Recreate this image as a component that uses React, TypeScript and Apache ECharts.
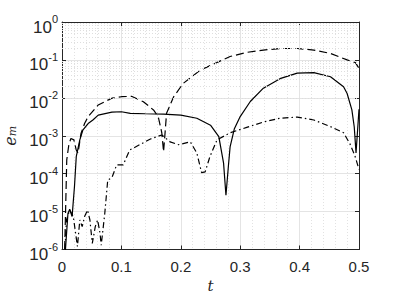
import React, { useEffect, useRef } from "react";
import * as echarts from "echarts";

const xTicks = [0, 0.1, 0.2, 0.3, 0.4, 0.5];
const yDecades = [1e-6, 1e-5, 1e-4, 1e-3, 1e-2, 1e-1, 1];

const tSolid = [0.0045, 0.010, 0.013, 0.017, 0.021, 0.024, 0.030, 0.035, 0.044, 0.052, 0.061, 0.084, 0.100, 0.115, 0.140, 0.171, 0.200, 0.227, 0.250, 0.264, 0.272, 0.276, 0.280, 0.283, 0.290, 0.300, 0.317, 0.339, 0.367, 0.396, 0.424, 0.452, 0.474, 0.480, 0.488, 0.492, 0.495, 0.498, 0.500];
const eSolid = [5e-7, 8.9e-6, 1.15e-5, 7.4e-6, 4.6e-5, 2.8e-4, 7.8e-4, 1.4e-3, 2.1e-3, 2.6e-3, 3.5e-3, 4.2e-3, 4.3e-3, 3.9e-3, 3.8e-3, 3.7e-3, 3.5e-3, 2.9e-3, 1.9e-3, 9.5e-4, 1.9e-4, 2.7e-5, 1.5e-4, 5.1e-4, 1.5e-3, 3.2e-3, 8e-3, 1.8e-2, 3.2e-2, 4.5e-2, 4.6e-2, 3.6e-2, 1.95e-2, 1.3e-2, 4.8e-3, 1.7e-3, 3.5e-4, 1.7e-3, 5e-3];

const tDashed = [0.004, 0.006, 0.008, 0.0115, 0.015, 0.020, 0.024, 0.027, 0.032, 0.038, 0.044, 0.061, 0.084, 0.100, 0.117, 0.137, 0.154, 0.162, 0.168, 0.171, 0.174, 0.176, 0.188, 0.204, 0.233, 0.283, 0.311, 0.339, 0.367, 0.396, 0.424, 0.452, 0.480, 0.494, 0.500];
const eDashed = [5e-7, 1e-5, 2.3e-4, 5.8e-4, 8.5e-4, 7.8e-4, 4.2e-4, 3.5e-4, 1.15e-3, 2.1e-3, 3.2e-3, 6.5e-3, 9.8e-3, 1.07e-2, 1.1e-2, 7.9e-3, 4.8e-3, 3.2e-3, 1.2e-3, 3.8e-4, 1.5e-3, 3.9e-3, 1.07e-2, 2.4e-2, 5.4e-2, 0.123, 0.158, 0.182, 0.2, 0.2, 0.182, 0.148, 0.1, 0.085, 0.06];

const tDashDot = [0.005, 0.0075, 0.013, 0.019, 0.026, 0.030, 0.034, 0.038, 0.043, 0.047, 0.051, 0.056, 0.060, 0.064, 0.066, 0.072, 0.077, 0.084, 0.092, 0.103, 0.114, 0.148, 0.168, 0.182, 0.196, 0.216, 0.227, 0.235, 0.241, 0.249, 0.261, 0.283, 0.311, 0.339, 0.367, 0.396, 0.424, 0.452, 0.474, 0.485, 0.493, 0.500];
const eDashDot = [1e-6, 6e-6, 1.1e-5, 7.4e-6, 1.2e-6, 6e-6, 4e-6, 7.4e-6, 1.1e-5, 6e-6, 1.45e-6, 4e-6, 6e-6, 2.7e-6, 1.3e-6, 8.9e-6, 6.8e-5, 7.8e-5, 1.7e-4, 1.7e-4, 4.2e-4, 8.1e-4, 1.05e-3, 6.9e-4, 5.8e-4, 6.9e-4, 3.5e-4, 1.07e-4, 1.12e-4, 2.8e-4, 7.8e-4, 1.2e-3, 1.66e-3, 2.3e-3, 2.9e-3, 3.1e-3, 2.6e-3, 1.74e-3, 1.2e-3, 6e-4, 3e-4, 1.3e-4];

const minorMultipliers = [2, 3, 4, 5, 6, 7, 8, 9];

const FONT = "Liberation Sans";
const AX = "#262626";

export default function App() {
  const ref = useRef<HTMLDivElement>(null);
  useEffect(() => {
    const chart = echarts.init(ref.current!, null, { renderer: "svg" });
    const minorVals: number[] = [];
    yDecades.slice(0, -1).forEach((d) => minorMultipliers.forEach((m) => minorVals.push(m * d)));
    const pairs = (t: number[], e: number[]) => t.map((x, i) => [x, e[i]]);
    const lineBase = { type: "line", showSymbol: false, symbol: "none", clip: true, xAxisIndex: 0, yAxisIndex: 0 };
    chart.setOption({
      animation: false,
      grid: { left: 62, top: 22, right: 37, bottom: 50.5, containLabel: false, outerBoundsMode: "none" },
      xAxis: [
        {
          type: "value", min: 0, max: 0.5, interval: 0.1,
          axisLine: { show: true, onZero: false, lineStyle: { color: AX, width: 1 } },
          axisTick: { show: true, inside: true, length: 4, lineStyle: { color: AX } },
          minorTick: { show: false, splitNumber: 5 },
          splitLine: { show: true, lineStyle: { color: "#e4e4e4", width: 1 } },
          minorSplitLine: { show: true, lineStyle: { color: "#e2e2e2", type: [1, 2], width: 1 } },
          axisLabel: { fontFamily: FONT, fontSize: 15, color: AX, margin: 9, formatter: (v: number) => (xTicks.includes(Math.round(v * 10) / 10) ? String(Math.round(v * 10) / 10) : "") },
          name: "t", nameLocation: "middle", nameGap: 29,
          nameTextStyle: { fontFamily: "DejaVu Serif", fontStyle: "italic", fontSize: 15, color: AX },
        },
        {
          type: "value", min: 0, max: 0.5, interval: 0.1, position: "top",
          axisLine: { show: true, onZero: false, lineStyle: { color: AX, width: 1 } },
          axisTick: { show: true, inside: true, length: 4, lineStyle: { color: AX } },
          axisLabel: { show: false }, splitLine: { show: false },
        },
      ],
      yAxis: [
        {
          type: "log", logBase: 10, min: 1e-6, max: 1,
          axisLine: { show: true, onZero: false, lineStyle: { color: AX, width: 1 } },
          axisTick: { show: true, inside: true, length: 4, lineStyle: { color: AX } },
          splitLine: { show: true, lineStyle: { color: "#e4e4e4", width: 1 } },
          axisLabel: {
            fontFamily: FONT, color: AX, margin: 4,
            formatter: (v: number) => `{b|10}{s|${Math.round(Math.log10(v))}}`,
            rich: {
              b: { fontFamily: FONT, fontSize: 17, color: AX, verticalAlign: "bottom", padding: [0, 0, -5, 0] },
              s: { fontFamily: FONT, fontSize: 11, color: AX, verticalAlign: "bottom", padding: [0, 0, 6, 0] },
            },
          },
          name: "{e|e}{m|m}", nameLocation: "middle", nameGap: 36,
          nameTextStyle: {
            rich: {
              e: { fontFamily: "DejaVu Serif", fontStyle: "italic", fontSize: 16, color: AX, verticalAlign: "bottom", lineHeight: 18 },
              m: { fontFamily: "DejaVu Serif", fontStyle: "italic", fontSize: 11, color: AX, verticalAlign: "bottom", lineHeight: 13 },
            },
          },
        },
        {
          type: "log", logBase: 10, min: 1e-6, max: 1, position: "right",
          axisLine: { show: true, onZero: false, lineStyle: { color: AX, width: 1 } },
          axisTick: { show: true, inside: true, length: 4, lineStyle: { color: AX } },
          axisLabel: { show: false }, splitLine: { show: false },
        },
      ],
      series: [
        {
          type: "line", data: [], xAxisIndex: 0, yAxisIndex: 0, z: 1,
          markLine: {
            silent: true, symbol: "none", label: { show: false }, animation: false,
            lineStyle: { color: "#dedede", type: [1, 2], width: 1 },
            data: minorVals.map((v) => ({ yAxis: v })),
          },
        },
        { ...lineBase, name: "solid", data: pairs(tSolid, eSolid), lineStyle: { color: "#000", width: 1.2, type: "solid" }, z: 3 },
        { ...lineBase, name: "dashed", data: pairs(tDashed, eDashed), lineStyle: { color: "#000", width: 1.2, type: [8, 4] }, z: 3 },
        { ...lineBase, name: "dashdot", data: pairs(tDashDot, eDashDot), lineStyle: { color: "#000", width: 1.2, type: [6, 3, 1.5, 3] }, z: 3 },
      ],
    });
    return () => chart.dispose();
  }, []);
  return <div ref={ref} style={{ position: "absolute", left: 0, top: 0, width: 396, height: 300 }} />;
}
